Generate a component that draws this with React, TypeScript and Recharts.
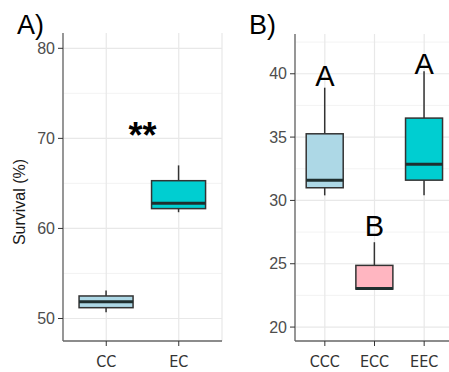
import React from 'react';
import {
  ComposedChart,
  Bar,
  XAxis,
  YAxis,
  CartesianGrid,
  ReferenceDot,
  ReferenceArea,
} from 'recharts';

// ---------- Panel A data ----------
const groupsA = ['CC', 'EC'];
const lowA = [50.7, 61.8];
const q1A = [51.2, 62.2];
const medA = [51.85, 62.8];
const q3A = [52.5, 65.3];
const highA = [53.1, 67.0];
const fillA = ['#ADD8E6', '#00CED1'];
const ticksA = [50, 60, 70, 80];
const minorA = [55, 65, 75];
const domainA: [number, number] = [47.5, 81.7];
const sigLabelA = '**';
const sigYA = 70.4;
const yTitleA = 'Survival (%)';

// ---------- Panel B data ----------
const groupsB = ['CCC', 'ECC', 'EEC'];
const lowB = [30.4, 23.0, 30.4];
const q1B = [31.0, 23.0, 31.6];
const medB = [31.6, 23.05, 32.85];
const q3B = [35.26, 24.87, 36.5];
const highB = [38.9, 26.7, 40.2];
const fillB = ['#ADD8E6', '#FFB6C1', '#00CED1'];
const lettersB = ['A', 'B', 'A'];
const letterYB = [39.88, 27.97, 40.83];
const ticksB = [20, 25, 30, 35, 40];
const minorB = [22.5, 27.5, 32.5, 37.5, 42.5];
const domainB: [number, number] = [18.9, 43.14];

const rowsA = groupsA.map((name, i) => ({
  name,
  low: lowA[i],
  q1: q1A[i],
  med: medA[i],
  q3: q3A[i],
  high: highA[i],
  fill: fillA[i],
}));

const rowsB = groupsB.map((name, i) => ({
  name,
  low: lowB[i],
  q1: q1B[i],
  med: medB[i],
  q3: q3B[i],
  high: highB[i],
  fill: fillB[i],
}));

const SANS = "'Liberation Sans', Arial, sans-serif";
const NARROW = "'Liberation Sans Narrow', 'Arial Narrow', 'DejaVu Sans Condensed', sans-serif";
const OUTLINE = '#333333';
const BORDER = '#666666';

const BoxShape = (props: any) => {
  const { x, y, width, height, payload } = props;
  if (!payload || x == null || y == null) return null;
  const top = Math.min(y, y + height);
  const bottom = Math.max(y, y + height);
  const span = payload.high - payload.low;
  const py = (v: number) =>
    span === 0 ? top : top + ((payload.high - v) / span) * (bottom - top);
  const cx = x + width / 2;
  const yq3 = py(payload.q3);
  const yq1 = py(payload.q1);
  const ymed = py(payload.med);
  return (
    <g>
      <line x1={cx} x2={cx} y1={py(payload.high)} y2={yq3} stroke={OUTLINE} strokeWidth={1.5} />
      <line x1={cx} x2={cx} y1={yq1} y2={py(payload.low)} stroke={OUTLINE} strokeWidth={1.5} />
      <rect
        x={x}
        y={yq3}
        width={width}
        height={Math.max(yq1 - yq3, 0)}
        fill={payload.fill}
        stroke={OUTLINE}
        strokeWidth={1.5}
      />
      <line x1={x} x2={x + width} y1={ymed} y2={ymed} stroke="#1f2f2f" strokeWidth={3} />
    </g>
  );
};

const yTick = { fill: '#4d4d4d', fontSize: 16, fontFamily: SANS };
const xTick = { fill: '#333333', fontSize: 16, fontFamily: NARROW };

export default function App() {
  return (
    <div
      style={{
        position: 'absolute',
        left: 0,
        top: 0,
        width: 449,
        height: 372,
        overflow: 'hidden',
        background: '#ffffff',
      }}
    >
      <div style={{ position: 'absolute', left: 0, top: 0 }}>
        <ComposedChart
          width={230}
          height={372}
          data={rowsA}
          margin={{ top: 33, right: 8, bottom: 0, left: 0 }}
          barCategoryGap="12.5%"
        >
          <CartesianGrid horizontalValues={minorA} vertical={false} stroke="#f0f0f0" strokeWidth={0.8} />
          <CartesianGrid horizontalValues={ticksA} stroke="#e8e8e8" strokeWidth={1.2} />
          <XAxis
            dataKey="name"
            type="category"
            interval={0}
            padding={{ left: 7, right: 7 }}
            height={31}
            tick={xTick}
            tickSize={5}
            tickMargin={10}
            tickLine={{ stroke: OUTLINE }}
            axisLine={{ stroke: BORDER, strokeWidth: 1.3 }}
          />
          <XAxis
            xAxisId="top"
            orientation="top"
            dataKey="name"
            padding={{ left: 7, right: 7 }}
            height={0}
            tick={false}
            tickLine={false}
            axisLine={{ stroke: BORDER, strokeWidth: 1.3 }}
          />
          <YAxis
            type="number"
            domain={domainA}
            ticks={ticksA}
            interval={0}
            width={63}
            tick={yTick}
            tickSize={5}
            tickMargin={3}
            tickLine={{ stroke: OUTLINE }}
            axisLine={{ stroke: BORDER, strokeWidth: 1.3 }}
          />
          <YAxis
            yAxisId="right"
            orientation="right"
            type="number"
            domain={domainA}
            width={0}
            tick={false}
            tickLine={false}
            axisLine={{ stroke: BORDER, strokeWidth: 1.3 }}
          />
          <Bar
            dataKey={(d: any) => [d.low, d.high]}
            shape={(p: any) => <BoxShape {...p} />}
            isAnimationActive={false}
          />
          <ReferenceArea
            x1={groupsA[0]}
            x2={groupsA[1]}
            y1={sigYA - 0.4}
            y2={sigYA + 0.4}
            fill="none"
            fillOpacity={0}
            stroke="none"
            label={{
              value: sigLabelA,
              position: 'center',
              fontSize: 36,
              fontWeight: 'bold',
              fontFamily: SANS,
              fill: '#000000',
            }}
          />
        </ComposedChart>
      </div>

      <div style={{ position: 'absolute', left: 230, top: 0 }}>
        <ComposedChart
          width={240}
          height={372}
          data={rowsB}
          margin={{ top: 34, right: 16, bottom: 0, left: 0 }}
          barCategoryGap="12.5%"
        >
          <CartesianGrid horizontalValues={minorB} vertical={false} stroke="#f0f0f0" strokeWidth={0.8} />
          <CartesianGrid horizontalValues={ticksB} stroke="#e8e8e8" strokeWidth={1.2} />
          <XAxis
            dataKey="name"
            type="category"
            interval={0}
            padding={{ left: 5, right: 5 }}
            height={31}
            tick={xTick}
            tickSize={5}
            tickMargin={10}
            tickLine={{ stroke: OUTLINE }}
            axisLine={{ stroke: BORDER, strokeWidth: 1.3 }}
          />
          <XAxis
            xAxisId="top"
            orientation="top"
            dataKey="name"
            padding={{ left: 5, right: 5 }}
            height={0}
            tick={false}
            tickLine={false}
            axisLine={{ stroke: BORDER, strokeWidth: 1.3 }}
          />
          <YAxis
            type="number"
            domain={domainB}
            ticks={ticksB}
            interval={0}
            width={65}
            tick={yTick}
            tickSize={5}
            tickMargin={3}
            tickLine={{ stroke: OUTLINE }}
            axisLine={{ stroke: BORDER, strokeWidth: 1.3 }}
          />
          <Bar
            dataKey={(d: any) => [d.low, d.high]}
            shape={(p: any) => <BoxShape {...p} />}
            isAnimationActive={false}
          />
          {groupsB.map((g, i) => (
            <ReferenceDot
              key={g + i}
              x={g}
              y={letterYB[i]}
              r={1}
              fill="none"
              stroke="none"
              label={{
                value: lettersB[i],
                position: 'center',
                fontSize: 29,
                fontFamily: SANS,
                fill: '#000000',
              }}
            />
          ))}
        </ComposedChart>
      </div>

      <svg
        width={40}
        height={372}
        style={{ position: 'absolute', left: 0, top: 0, pointerEvents: 'none' }}
      >
        <text
          x={25}
          y={202}
          transform="rotate(-90 25 202)"
          textAnchor="middle"
          style={{ fontSize: 16, fontFamily: SANS, fill: '#1a1a1a' }}
        >
          {yTitleA}
        </text>
      </svg>

      <div
        style={{
          position: 'absolute',
          left: 17,
          top: 12,
          fontFamily: SANS,
          fontSize: 27,
          lineHeight: '27px',
          color: '#000',
        }}
      >
        A)
      </div>
      <div
        style={{
          position: 'absolute',
          left: 249,
          top: 12,
          fontFamily: SANS,
          fontSize: 27,
          lineHeight: '27px',
          color: '#000',
        }}
      >
        B)
      </div>
    </div>
  );
}
